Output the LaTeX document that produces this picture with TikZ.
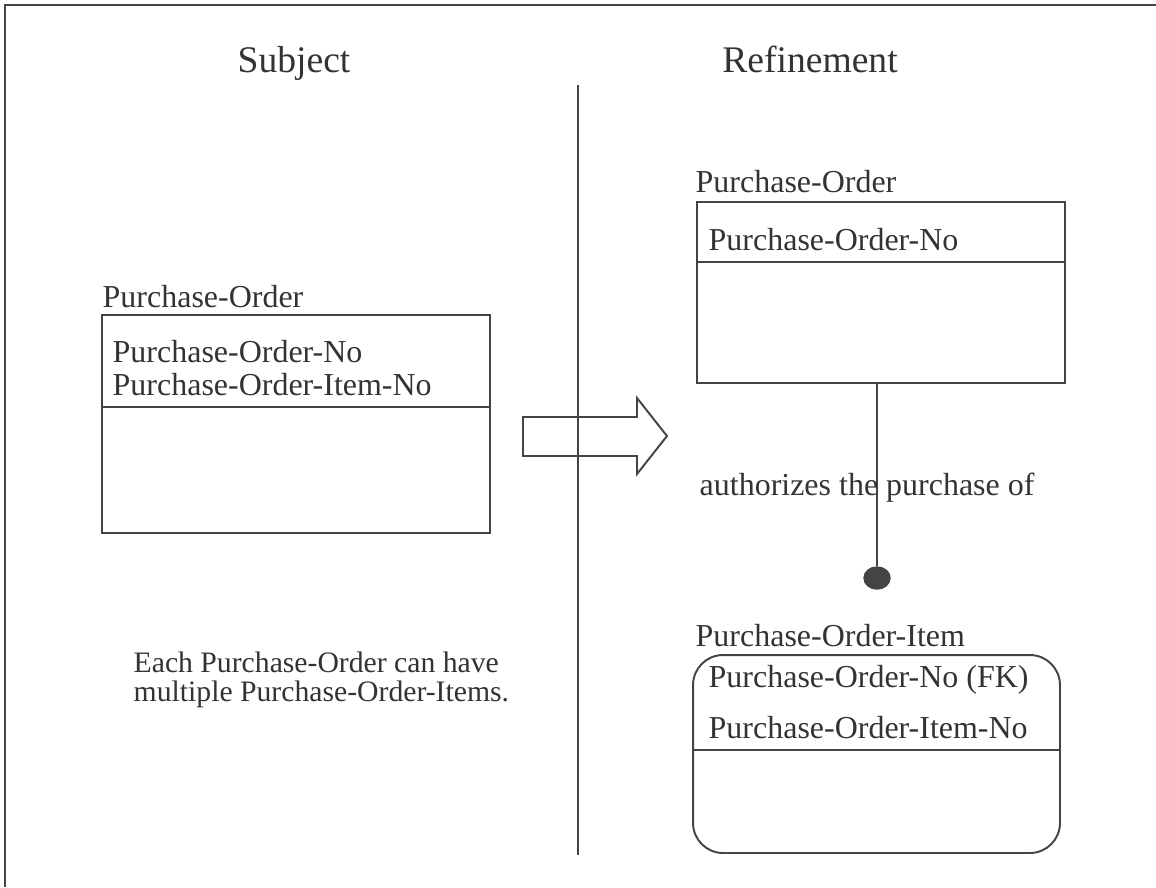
\documentclass[tikz,border=0pt]{standalone}
\usepackage{fontspec}
\setmainfont{Liberation Serif}
\usetikzlibrary{shapes.geometric}
\definecolor{ink}{HTML}{444444}
\definecolor{txt}{HTML}{333333}

\begin{document}
\begin{tikzpicture}[x=0.02cm, y=-0.02cm, thick, draw=ink, text=txt,
    entity box/.style={draw=ink, line width=1.1pt, minimum width=#1},
    ent name/.style={anchor=west, inner sep=0pt, font=\fontsize{18.2}{21}\selectfont},
    attr/.style={anchor=west, inner sep=0pt, font=\fontsize{18.2}{21}\selectfont},
    note/.style={anchor=west, inner sep=0pt, font=\fontsize{16.9}{20}\selectfont},
    head/.style={anchor=base, inner sep=0pt, font=\fontsize{21.4}{24}\selectfont}]

\useasboundingbox (0,0) rectangle (1156,887);
\draw[ink, line width=1.1pt] (5,887) -- (5,5) -- (1156,5);

\node[head] (subj) at (294,72) {Subject};
\node[head] (refi) at (810,72) {Refinement};
\draw[ink, line width=1pt] (578,85) -- (578,855);

% subject side
\node[entity box=7.76cm, minimum height=4.36cm] (po1) at (296,424) {};
\node[ent name] (po1name) at (102,297) {Purchase-Order};
\node[attr] (po1a) at (112,352) {Purchase-Order-No};
\node[attr] (po1b) at (112,385) {Purchase-Order-Item-No};
\draw[ink, line width=1.1pt] (102,407) -- (490,407);

\node[note] (note1) at (133,662) {Each Purchase-Order can have};
\node[note] (note2) at (133,694) {multiple Purchase-Order-Items.};

% refinement arrow
\draw[ink, line width=1.1pt] (523,417) -- (637,417) -- (637,398) -- (667,436)
    -- (637,474) -- (637,456) -- (523,456) -- cycle;

% refinement side
\node[entity box=7.36cm, minimum height=3.62cm] (po2) at (881,292.5) {};
\node[ent name] (po2name) at (695,182) {Purchase-Order};
\node[attr] (po2a) at (708,240) {Purchase-Order-No};
\draw[ink, line width=1.1pt] (697,262) -- (1065,262);

\node[ellipse, fill=ink, draw=ink, inner sep=0pt, minimum width=0.52cm, minimum height=0.44cm] (dot) at (877,578) {};
\draw[ink, line width=1.1pt] (po2.south -| dot) -- (dot);
\node[attr] (rel) at (699,488) {authorizes the purchase of};

\node[entity box=7.34cm, minimum height=3.96cm, rounded corners=0.6cm] (poi) at (876.5,754) {};
\node[ent name] (poiname) at (695,636) {Purchase-Order-Item};
\node[attr] (poia) at (708,680) {Purchase-Order-No (FK)};
\node[attr] (poib) at (708,728) {Purchase-Order-Item-No};
\draw[ink, line width=1.1pt] (693,750) -- (1060,750);

\end{tikzpicture}
\end{document}
